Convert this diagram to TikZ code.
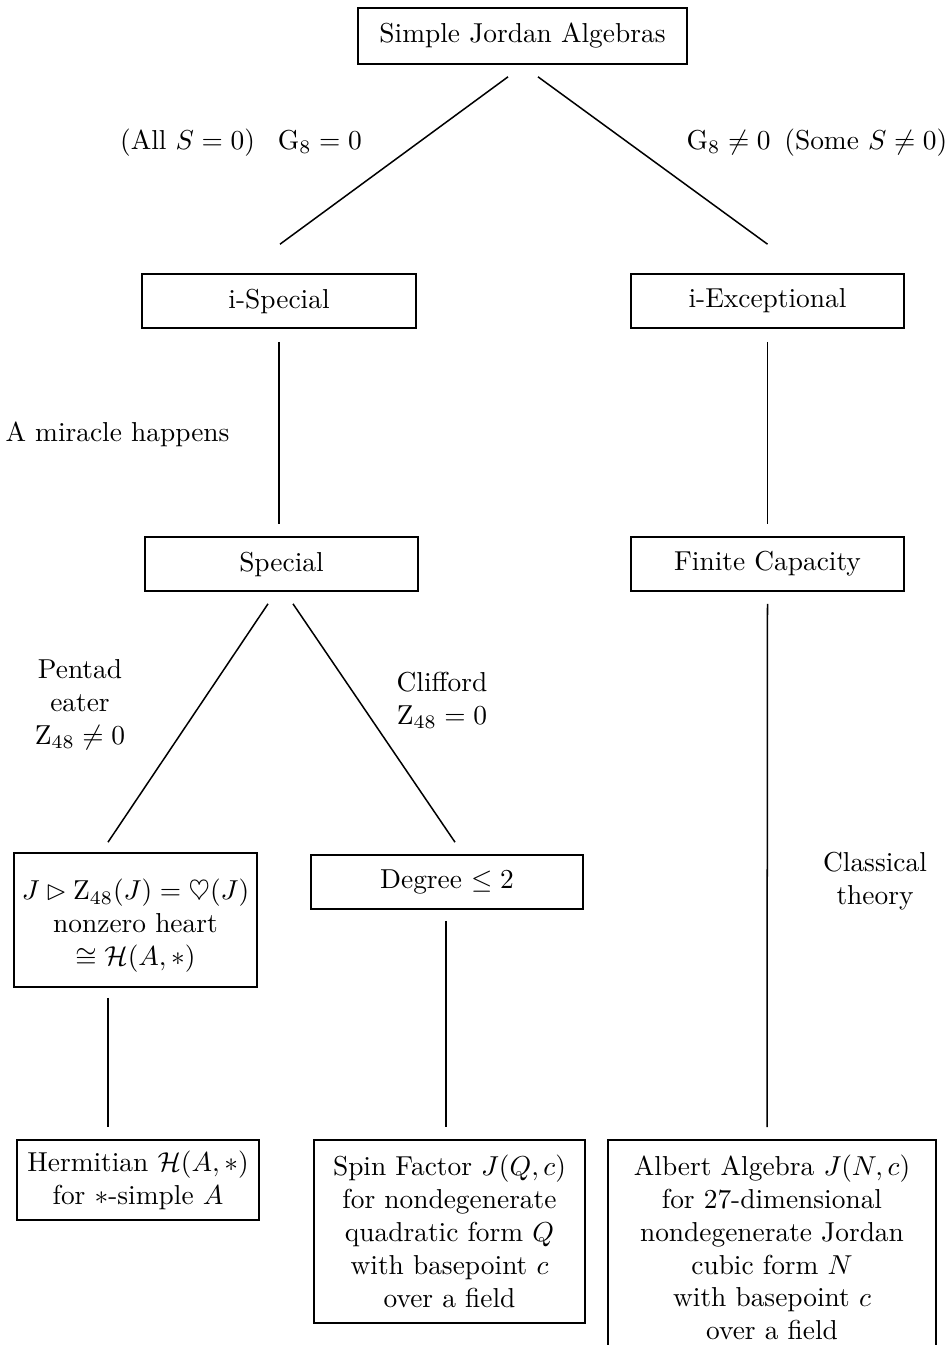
\documentclass[tikz,border=0pt]{standalone}
\usepackage{amssymb}
\usetikzlibrary{calc}
\newcommand\pxu[1]{#1*0.365pt}
\tikzset{
  box/.style={draw, line width=0.6pt, inner sep=0pt, align=center, anchor=center},
  conn/.style={line width=0.55pt},
  lbl/.style={align=center, inner sep=0pt, anchor=center},
}
\begin{document}
\begin{tikzpicture}[x=0.365pt,y=-0.365pt]
\clip (0,0) rectangle (951,1345);
\fill[white] (0,0) rectangle (951,1345);
% boxes
\node[box, minimum width=\pxu{329}, minimum height=\pxu{56}] (top) at (522.5,36) {Simple Jordan Algebras};
\node[box, minimum width=\pxu{274}, minimum height=\pxu{54}] (isp) at (279,301) {i-Special};
\node[box, minimum width=\pxu{273}, minimum height=\pxu{54}] (iex) at (767.5,301) {i-Exceptional};
\node[box, minimum width=\pxu{273}, minimum height=\pxu{54}] (spe) at (281.5,564) {Special};
\node[box, minimum width=\pxu{273}, minimum height=\pxu{54}] (fin) at (767.5,564) {Finite Capacity};
\node[box, minimum width=\pxu{243}, minimum height=\pxu{134}] (jbx) at (135.5,920) {};
\node[lbl] (jtx) at ($(jbx.center)+(0,6)$) {$J\rhd \mathrm{Z}_{48}(J)=\heartsuit(J)$\\nonzero heart\\$\cong\mathcal{H}(A,*)$};
\node[box, minimum width=\pxu{272}, minimum height=\pxu{54}] (deg) at (447,882) {Degree $\leq 2$};
\node[box, minimum width=\pxu{242}, minimum height=\pxu{80}] (her) at (138,1180) {Hermitian $\mathcal{H}(A,*)$\\for $*$-simple $A$};
\node[box, minimum width=\pxu{271}, minimum height=\pxu{183}] (spin) at (449.5,1231.5) {Spin Factor $J(Q,c)$\\for nondegenerate\\quadratic form $Q$\\with basepoint $c$\\over a field};
\node[box, minimum width=\pxu{328}, minimum height=\pxu{215}] (alb) at (772,1247.5) {Albert Algebra $J(N,c)$\\for 27-dimensional\\nondegenerate Jordan\\cubic form $N$\\with basepoint $c$\\over a field};
% labels
\node[lbl] (l1) at (241,143) {(All $S=0$)\enspace\ $\mathrm{G}_8=0$};
\node[lbl] (l2) at (817,143) {$\mathrm{G}_8\neq0$\enspace (Some $S\neq0$)};
\node[lbl] (l3) at (117.5,434) {A miracle happens};
\node[lbl] (l4) at (80,705) {Pentad\\eater\\$\mathrm{Z}_{48}\neq0$};
\node[lbl] (l5) at (442,700) {Clifford\\$\mathrm{Z}_{48}=0$};
\node[lbl] (l6) at (875,881) {Classical\\theory};
% connectors
\draw[conn] ($(top.south)+(-14.5,12)$) -- ($(isp.north)+(1,-29)$);
\draw[conn] ($(top.south)+(15.5,12)$) -- ($(iex.north)+(0,-29)$);
\draw[conn] ($(isp.south)+(0,13)$) -- ($(spe.north)+(-2.5,-12)$);
\draw[conn] ($(iex.south)+(0,13)$) -- ($(fin.north)+(0,-12)$);
\draw[conn] ($(spe.south)+(-13.5,12)$) -- ($(jbx.north)+(-27.5,-10)$);
\draw[conn] ($(spe.south)+(11.5,12)$) -- ($(deg.north)+(8,-12)$);
\draw[conn] ($(fin.south)+(0,12)$) -- ($(alb.north)+(-5,-12)$);
\draw[conn] ($(jbx.south)+(-27.5,10)$) -- ($(her.north)+(-30,-12)$);
\draw[conn] ($(deg.south)+(-1,11)$) -- ($(spin.north)+(-3.5,-12)$);
\end{tikzpicture}
\end{document}
